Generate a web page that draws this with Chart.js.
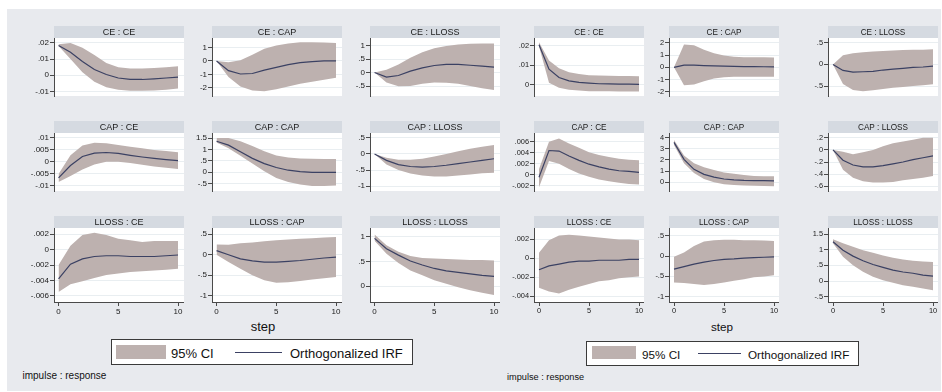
<!DOCTYPE html>
<html>
<head>
<meta charset="utf-8">
<script src="https://cdn.jsdelivr.net/npm/chart.js@4/dist/chart.umd.min.js"></script>
<style>
  html, body { margin: 0; padding: 0; background: #ffffff; }
  body { width: 942px; height: 392px; position: relative; overflow: hidden;
         font-family: "Liberation Sans", Arial, Helvetica, sans-serif; color: #111; }
  #bg { position: absolute; left: 7px; top: 9px; width: 934px; height: 382px; background: #e8eaee; }
  canvas { position: absolute; }
  .txt { position: absolute; white-space: nowrap; }
  .box { position: absolute; box-sizing: border-box; background: #fff; border: 1px solid #3a3a3a; }
  .sw { position: absolute; }
</style>
</head>
<body>
<div id="bg"></div>
<script>
// ---- data: orthogonalized impulse responses, steps 0..10 ----
const steps = [0, 1, 2, 3, 4, 5, 6, 7, 8, 9, 10];
const impulses = ['CE', 'CAP', 'LLOSS'];
const responses = ['CE', 'CAP', 'LLOSS'];
const xTicks = [0, 5, 10];

// model 1
const m1_CE_CE_irf = [.0184, .0142, .0085, .0035, .0005, -.0017, -.0025, -.0026, -.0022, -.0017, -.0012];
const m1_CE_CE_lo  = [.018, .01, .0019, -.004, -.0074, -.0089, -.0095, -.0095, -.0094, -.0089, -.0082];
const m1_CE_CE_hi  = [.0192, .0199, .017, .0125, .0075, .005, .0042, .0042, .0045, .005, .0055];
const m1_CE_CE_ticks = [-.01, 0, .01, .02];

const m1_CE_CAP_irf = [0, -.72, -.97, -.93, -.68, -.48, -.27, -.13, -.05, 0, 0];
const m1_CE_CAP_lo  = [0, -1.2, -1.9, -2.2, -2.25, -2.1, -1.9, -1.7, -1.55, -1.4, -1.25];
const m1_CE_CAP_hi  = [0, -.1, .05, .45, .9, 1.15, 1.3, 1.38, 1.38, 1.36, 1.33];
const m1_CE_CAP_ticks = [-2, -1, 0, 1];

const m1_CE_LLOSS_irf = [0, -.17, -.11, .05, .17, .26, .3, .3, .27, .24, .2];
const m1_CE_LLOSS_lo  = [0, -.37, -.51, -.5, -.42, -.37, -.38, -.42, -.5, -.58, -.65];
const m1_CE_LLOSS_hi  = [0, .1, .3, .55, .75, .9, .98, 1.04, 1.07, 1.08, 1.08];
const m1_CE_LLOSS_ticks = [-.5, 0, .5, 1];

const m1_CAP_CE_irf = [-.0068, -.0016, .0022, .0036, .0039, .0035, .0027, .002, .0014, .0009, .0005];
const m1_CAP_CE_lo  = [-.0085, -.006, -.0033, -.0011, 0, 0, -.0005, -.0013, -.002, -.0025, -.003];
const m1_CAP_CE_hi  = [-.0052, .0027, .0068, .008, .0078, .0071, .0063, .0057, .005, .0045, .004];
const m1_CAP_CE_ticks = [-.01, -.005, 0, .005, .01];

const m1_CAP_CAP_irf = [1.36, 1.19, .9, .61, .38, .21, .09, .03, 0, 0, 0];
const m1_CAP_CAP_lo  = [1.3, 1.05, .72, .38, .05, -.25, -.43, -.54, -.6, -.6, -.58];
const m1_CAP_CAP_hi  = [1.5, 1.5, 1.36, 1.15, .92, .73, .65, .6, .59, .58, .58];
const m1_CAP_CAP_ticks = [-.5, 0, .5, 1, 1.5];

const m1_CAP_LLOSS_irf = [0, -.2, -.33, -.39, -.41, -.39, -.35, -.3, -.25, -.2, -.15];
const m1_CAP_LLOSS_lo  = [0, -.33, -.5, -.61, -.67, -.7, -.7, -.67, -.64, -.6, -.58];
const m1_CAP_LLOSS_hi  = [0, -.12, -.18, -.18, -.15, -.08, 0, .08, .16, .22, .28];
const m1_CAP_LLOSS_ticks = [-1, -.5, 0, .5];

const m1_LLOSS_CE_irf = [-.0038, -.0019, -.0012, -.0009, -.0008, -.0008, -.0009, -.0009, -.0009, -.0008, -.0007];
const m1_LLOSS_CE_lo  = [-.0055, -.0045, -.0041, -.0037, -.0033, -.0031, -.0029, -.0028, -.0027, -.0026, -.0025];
const m1_LLOSS_CE_hi  = [-.002, .0005, .0019, .0022, .0019, .0014, .0012, .001, .0011, .0011, .0011];
const m1_LLOSS_CE_ticks = [-.006, -.004, -.002, 0, .002];

const m1_LLOSS_CAP_irf = [.1, 0, -.1, -.15, -.18, -.18, -.16, -.14, -.11, -.08, -.06];
const m1_LLOSS_CAP_lo  = [0, -.18, -.34, -.5, -.62, -.68, -.67, -.64, -.6, -.57, -.54];
const m1_LLOSS_CAP_hi  = [.25, .24, .28, .3, .33, .35, .37, .39, .4, .42, .43];
const m1_LLOSS_CAP_ticks = [-1, -.5, 0, .5];

const m1_LLOSS_LLOSS_irf = [.97, .76, .63, .51, .43, .36, .31, .28, .25, .22, .2];
const m1_LLOSS_LLOSS_lo  = [.92, .66, .47, .32, .22, .12, .05, -.02, -.08, -.13, -.18];
const m1_LLOSS_LLOSS_hi  = [1.05, .83, .7, .61, .57, .56, .55, .54, .53, .53, .52];
const m1_LLOSS_LLOSS_ticks = [0, .5, 1];

// model 2
const m2_CE_CE_irf = [.0204, .0079, .0036, .0019, .0011, .0007, .0004, .0003, .0002, .0002, .0001];
const m2_CE_CE_lo  = [.0197, .0009, -.0017, -.0027, -.0031, -.0034, -.0035, -.0035, -.0036, -.0036, -.0036];
const m2_CE_CE_hi  = [.0217, .0123, .0083, .0063, .0054, .0048, .0046, .0045, .0044, .0044, .0043];
const m2_CE_CE_ticks = [0, .01, .02];

const m2_CE_CAP_irf = [0, .19, .19, .15, .12, .1, .08, .06, .06, .05, .04];
const m2_CE_CAP_lo  = [0, -1.46, -1.39, -1.13, -.92, -.81, -.77, -.77, -.77, -.77, -.77];
const m2_CE_CAP_hi  = [0, 1.86, 1.8, 1.43, 1.16, .96, .86, .83, .82, .82, .81];
const m2_CE_CAP_ticks = [-2, -1, 0, 1, 2];

const m2_CE_LLOSS_irf = [0, -.14, -.18, -.17, -.16, -.13, -.11, -.09, -.07, -.06, -.04];
const m2_CE_LLOSS_lo  = [0, -.45, -.59, -.62, -.6, -.57, -.54, -.52, -.5, -.48, -.46];
const m2_CE_LLOSS_hi  = [0, .21, .26, .28, .3, .31, .32, .33, .34, .34, .35];
const m2_CE_LLOSS_ticks = [-.5, 0, .5];

const m2_CAP_CE_irf = [-.0005, .0044, .0043, .0034, .0026, .0019, .0014, .001, .0007, .0006, .0004];
const m2_CAP_CE_lo  = [-.0023, .0025, .002, .001, .0002, -.0004, -.0009, -.0012, -.0015, -.0017, -.0018];
const m2_CAP_CE_hi  = [.001, .006, .0066, .0057, .0049, .0041, .0036, .0032, .0029, .0027, .0026];
const m2_CAP_CE_ticks = [-.002, 0, .002, .004, .006];

const m2_CAP_CAP_irf = [3.58, 2.05, 1.15, .7, .45, .28, .2, .16, .14, .13, .12];
const m2_CAP_CAP_lo  = [3.34, 1.7, .82, .28, -.02, -.19, -.26, -.3, -.33, -.35, -.37];
const m2_CAP_CAP_hi  = [3.8, 2.4, 1.7, 1.34, 1.1, .87, .75, .64, .56, .52, .52];
const m2_CAP_CAP_ticks = [0, 1, 2, 3, 4];

const m2_CAP_LLOSS_irf = [0, -.17, -.25, -.28, -.28, -.26, -.23, -.2, -.16, -.13, -.1];
const m2_CAP_LLOSS_lo  = [0, -.33, -.46, -.52, -.54, -.54, -.53, -.5, -.48, -.46, -.43];
const m2_CAP_LLOSS_hi  = [0, -.03, -.07, -.04, 0, .06, .11, .14, .17, .2, .2];
const m2_CAP_LLOSS_ticks = [-.6, -.4, -.2, 0, .2];

const m2_LLOSS_CE_irf = [-.0012, -.0008, -.0006, -.0004, -.0003, -.0003, -.0002, -.0002, -.0002, -.0001, -.0001];
const m2_LLOSS_CE_lo  = [-.0031, -.0035, -.0037, -.0033, -.003, -.0027, -.0024, -.0023, -.0021, -.002, -.0019];
const m2_LLOSS_CE_hi  = [.0006, .0019, .0024, .0025, .0024, .0023, .0022, .0021, .002, .002, .0019];
const m2_LLOSS_CE_ticks = [-.004, -.002, 0, .002];

const m2_LLOSS_CAP_irf = [-.32, -.26, -.2, -.15, -.11, -.08, -.07, -.05, -.04, -.03, -.02];
const m2_LLOSS_CAP_lo  = [-.65, -.66, -.69, -.71, -.69, -.65, -.61, -.57, -.52, -.5, -.47];
const m2_LLOSS_CAP_hi  = [-.02, .09, .25, .36, .39, .4, .4, .39, .39, .38, .37];
const m2_LLOSS_CAP_ticks = [-1, -.5, 0, .5];

const m2_LLOSS_LLOSS_irf = [1.26, .99, .8, .65, .53, .44, .35, .29, .25, .19, .16];
const m2_LLOSS_LLOSS_lo  = [1.21, .78, .51, .3, .14, .03, -.05, -.13, -.18, -.24, -.29];
const m2_LLOSS_LLOSS_hi  = [1.34, 1.21, 1.1, .99, .91, .82, .75, .69, .65, .63, .61];
const m2_LLOSS_LLOSS_ticks = [-.5, 0, .5, 1, 1.5];

const legendLabels = ['95% CI', 'Orthogonalized IRF'];
const xTitle = 'step';
const note = 'impulse : response';

// panel tables built from the arrays above (yRange = axis extent)
const model1 = {
  'CE:CE':       { irf: m1_CE_CE_irf, lo: m1_CE_CE_lo, hi: m1_CE_CE_hi, ticks: m1_CE_CE_ticks, yRange: [-.0128, .023] },
  'CE:CAP':      { irf: m1_CE_CAP_irf, lo: m1_CE_CAP_lo, hi: m1_CE_CAP_hi, ticks: m1_CE_CAP_ticks, yRange: [-2.6, 1.7] },
  'CE:LLOSS':    { irf: m1_CE_LLOSS_irf, lo: m1_CE_LLOSS_lo, hi: m1_CE_LLOSS_hi, ticks: m1_CE_LLOSS_ticks, yRange: [-.87, 1.28] },
  'CAP:CE':      { irf: m1_CAP_CE_irf, lo: m1_CAP_CE_lo, hi: m1_CAP_CE_hi, ticks: m1_CAP_CE_ticks, yRange: [-.0123, .0121] },
  'CAP:CAP':     { irf: m1_CAP_CAP_irf, lo: m1_CAP_CAP_lo, hi: m1_CAP_CAP_hi, ticks: m1_CAP_CAP_ticks, yRange: [-.82, 1.72] },
  'CAP:LLOSS':   { irf: m1_CAP_LLOSS_irf, lo: m1_CAP_LLOSS_lo, hi: m1_CAP_LLOSS_hi, ticks: m1_CAP_LLOSS_ticks, yRange: [-1.15, .65] },
  'LLOSS:CE':    { irf: m1_LLOSS_CE_irf, lo: m1_LLOSS_CE_lo, hi: m1_LLOSS_CE_hi, ticks: m1_LLOSS_CE_ticks, yRange: [-.0068, .0028] },
  'LLOSS:CAP':   { irf: m1_LLOSS_CAP_irf, lo: m1_LLOSS_CAP_lo, hi: m1_LLOSS_CAP_hi, ticks: m1_LLOSS_CAP_ticks, yRange: [-1.15, .65] },
  'LLOSS:LLOSS': { irf: m1_LLOSS_LLOSS_irf, lo: m1_LLOSS_LLOSS_lo, hi: m1_LLOSS_LLOSS_hi, ticks: m1_LLOSS_LLOSS_ticks, yRange: [-.32, 1.18] }
};
const model2 = {
  'CE:CE':       { irf: m2_CE_CE_irf, lo: m2_CE_CE_lo, hi: m2_CE_CE_hi, ticks: m2_CE_CE_ticks, yRange: [-.0059, .0239] },
  'CE:CAP':      { irf: m2_CE_CAP_irf, lo: m2_CE_CAP_lo, hi: m2_CE_CAP_hi, ticks: m2_CE_CAP_ticks, yRange: [-2.34, 2.4] },
  'CE:LLOSS':    { irf: m2_CE_LLOSS_irf, lo: m2_CE_LLOSS_lo, hi: m2_CE_LLOSS_hi, ticks: m2_CE_LLOSS_ticks, yRange: [-.73, .61] },
  'CAP:CE':      { irf: m2_CAP_CE_irf, lo: m2_CAP_CE_lo, hi: m2_CAP_CE_hi, ticks: m2_CAP_CE_ticks, yRange: [-.003, .0076] },
  'CAP:CAP':     { irf: m2_CAP_CAP_irf, lo: m2_CAP_CAP_lo, hi: m2_CAP_CAP_hi, ticks: m2_CAP_CAP_ticks, yRange: [-.8, 4.42] },
  'CAP:LLOSS':   { irf: m2_CAP_LLOSS_irf, lo: m2_CAP_LLOSS_lo, hi: m2_CAP_LLOSS_hi, ticks: m2_CAP_LLOSS_ticks, yRange: [-.68, .28] },
  'LLOSS:CE':    { irf: m2_LLOSS_CE_irf, lo: m2_LLOSS_CE_lo, hi: m2_LLOSS_CE_hi, ticks: m2_LLOSS_CE_ticks, yRange: [-.0046, .0032] },
  'LLOSS:CAP':   { irf: m2_LLOSS_CAP_irf, lo: m2_LLOSS_CAP_lo, hi: m2_LLOSS_CAP_hi, ticks: m2_LLOSS_CAP_ticks, yRange: [-1.13, .69] },
  'LLOSS:LLOSS': { irf: m2_LLOSS_LLOSS_irf, lo: m2_LLOSS_LLOSS_lo, hi: m2_LLOSS_LLOSS_hi, ticks: m2_LLOSS_LLOSS_ticks, yRange: [-.67, 1.7] }
};

// ---- styling and layout ----
const FONT = '"Liberation Sans", Arial, Helvetica, sans-serif';
const BAND = '#bdb1af';
const LINE = '#3b4163';
const STRIP = '#d5dae1';
const GRID = '#e9eef1';
const AXIS = '#4a4a4a';
const TEXT = '#1a1a1a';

const rowTop = [38, 133, 228];
const plotH = 74;
const stripH = 12;
const yAxisW = 46;
const xAxisH = 16;

const graphs = [
  { data: model1, cols: [54, 212, 370], plotW: 130, xMin: -0.38, xMax: 10.5,
    strip: 9, tick: 8, big: 13, small: 10,
    step: { x: 263, base: 330.7 },
    legend: { box: [111, 339, 302, 26], sw: [116, 345, 50, 14], t1: 171, ln: [235, 352, 47], t2: 290, base: 358.3 },
    note: { x: 22.5, base: 379.5 } },
  { data: model2, cols: [534, 669, 828], plotW: 110, xMin: -0.5, xMax: 10.5,
    strip: 8.2, tick: 7.4, big: 11.7, small: 9.2,
    step: { x: 722, base: 331 },
    legend: { box: [586, 341, 273, 25], sw: [592, 346, 44, 13], t1: 642, ln: [698, 353, 43], t2: 748, base: 359 },
    note: { x: 507, base: 380.5 } }
];

Chart.defaults.font.family = FONT;
Chart.defaults.color = TEXT;

function fmt(v) {
  if (Math.abs(v) < 1e-12) return '0';
  let s = String(+v.toFixed(6));
  return s.replace(/^0\./, '.').replace(/^-0\./, '-.');
}
const pts = arr => steps.map((s, i) => ({ x: s, y: arr[i] }));

// white plot region plus the title strip above it
const panelFrame = {
  id: 'panelFrame',
  beforeDraw(chart, args, opts) {
    const { ctx, chartArea: a } = chart;
    ctx.save();
    ctx.fillStyle = '#ffffff';
    ctx.fillRect(a.left, a.top, a.right - a.left, a.bottom - a.top);
    ctx.fillStyle = STRIP;
    ctx.fillRect(a.left, a.top - stripH, a.right - a.left, stripH);
    ctx.fillStyle = TEXT;
    ctx.font = opts.size + 'px ' + FONT;
    ctx.textAlign = 'center';
    ctx.textBaseline = 'middle';
    ctx.fillText(opts.text, (a.left + a.right) / 2, a.top - stripH / 2 + 0.5);
    ctx.restore();
  }
};

function addText(str, x, base, size, center) {
  const d = document.createElement('div');
  d.className = 'txt';
  d.textContent = str;
  d.style.fontSize = size + 'px';
  d.style.lineHeight = size + 'px';
  d.style.top = (base - 0.8465 * size) + 'px';
  if (center) { d.style.left = (x - 200) + 'px'; d.style.width = '400px'; d.style.textAlign = 'center'; }
  else d.style.left = x + 'px';
  document.body.appendChild(d);
}
function addBox(cls, x, y, w, h, bg) {
  const d = document.createElement('div');
  d.className = cls;
  Object.assign(d.style, { left: x + 'px', top: y + 'px', width: w + 'px', height: h + 'px' });
  if (bg) d.style.background = bg;
  document.body.appendChild(d);
}

graphs.forEach(g => {
  impulses.forEach((imp, r) => {
    responses.forEach((resp, c) => {
      const key = imp + ':' + resp;
      const p = g.data[key];
      const bottom = r === impulses.length - 1;
      const cv = document.createElement('canvas');
      cv.width = yAxisW + g.plotW;
      cv.height = stripH + plotH + (bottom ? xAxisH : 0);
      cv.style.left = (g.cols[c] - yAxisW) + 'px';
      cv.style.top = (rowTop[r] - stripH) + 'px';
      document.body.appendChild(cv);

      new Chart(cv, {
        type: 'line',
        data: {
          // the IRF line comes first so it is painted above the band
          datasets: [
            { data: pts(p.irf), borderColor: LINE, borderWidth: 1.2, pointRadius: 0, fill: false, tension: 0 },
            { data: pts(p.lo), borderWidth: 0, borderColor: 'rgba(0,0,0,0)', pointRadius: 0, fill: false },
            { data: pts(p.hi), borderWidth: 0, borderColor: 'rgba(0,0,0,0)', pointRadius: 0, fill: '-1', backgroundColor: BAND }
          ]
        },
        options: {
          responsive: false,
          animation: false,
          devicePixelRatio: 1,
          events: [],
          layout: { padding: { top: stripH, left: 0, right: 0, bottom: 0 } },
          plugins: {
            legend: { display: false },
            tooltip: { enabled: false },
            panelFrame: { text: imp + ' : ' + resp, size: g.strip }
          },
          scales: {
            x: {
              type: 'linear', min: g.xMin, max: g.xMax, display: bottom,
              afterBuildTicks: s => { s.ticks = xTicks.map(v => ({ value: v })); },
              afterFit: s => { s.height = xAxisH; s.paddingLeft = 0; s.paddingRight = 0; },
              grid: { drawOnChartArea: false, drawTicks: true, tickLength: 4, tickColor: AXIS, lineWidth: 1 },
              border: { display: true, color: AXIS, width: 1 },
              ticks: { font: { size: g.tick }, color: TEXT, padding: 1, maxRotation: 0, autoSkip: false,
                       callback: v => fmt(v) }
            },
            y: {
              type: 'linear', min: p.yRange[0], max: p.yRange[1],
              afterBuildTicks: s => { s.ticks = p.ticks.map(v => ({ value: v })); },
              afterFit: s => { s.width = yAxisW; s.paddingTop = 0; s.paddingBottom = 0; },
              grid: { color: GRID, lineWidth: 1, drawTicks: true, tickLength: 4, tickColor: AXIS },
              border: { display: true, color: AXIS, width: 1 },
              ticks: { font: { size: g.tick }, color: TEXT, padding: 1, autoSkip: false,
                       callback: v => fmt(v) }
            }
          }
        },
        plugins: [panelFrame]
      });
    });
  });

  // shared axis title, legend and note
  addText(xTitle, g.step.x, g.step.base, g.big, true);
  const L = g.legend;
  addBox('box', L.box[0], L.box[1], L.box[2], L.box[3]);
  addBox('sw', L.sw[0], L.sw[1], L.sw[2], L.sw[3], BAND);
  addText(legendLabels[0], L.t1, L.base, g.big, false);
  addBox('sw', L.ln[0], L.ln[1], L.ln[2], 1.3, LINE);
  addText(legendLabels[1], L.t2, L.base, g.big, false);
  addText(note, g.note.x, g.note.base, g.small, false);
});
</script>
</body>
</html>
